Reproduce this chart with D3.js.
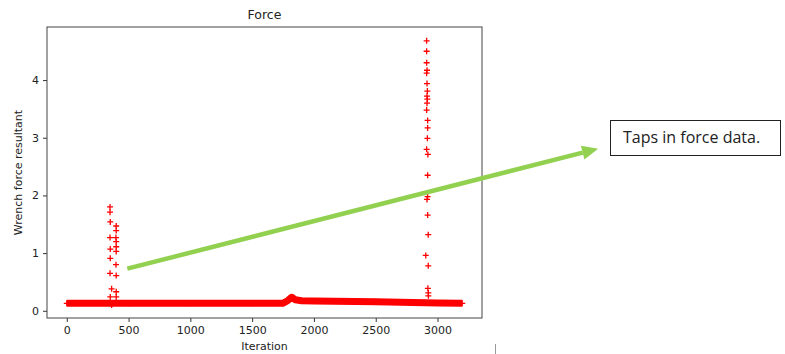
<!DOCTYPE html>
<html>
<head>
<meta charset="utf-8">
<script src="https://cdn.jsdelivr.net/npm/d3@7"></script>
<style>
  body { margin: 0; background: #fff; }
  svg text { font-family: "DejaVu Sans", sans-serif; fill: #222; }
</style>
</head>
<body>
<div id="graph"></div>
<script>
// baseline of the force signal (dense markers, read as a band)
const baseIter = [0, 500, 1000, 1500, 1750, 1790, 1820, 1850, 1900, 2000, 2500, 2900, 3000, 3200];
const baseForce = [0.13, 0.13, 0.13, 0.13, 0.13, 0.18, 0.235, 0.19, 0.175, 0.17, 0.155, 0.14, 0.135, 0.13];

// first tap, around iteration 350-400
const tap1Iter = [350, 350, 352, 350, 352, 352, 350, 363, 352, 363, 400, 400, 398, 400, 400, 400, 398, 400, 400, 400];
const tap1Force = [1.80, 1.71, 1.54, 1.27, 1.07, 0.91, 0.65, 0.38, 0.24, 0.10, 1.47, 1.39, 1.27, 1.20, 1.11, 1.03, 0.80, 0.61, 0.33, 0.24];

// second tap, around iteration 2910-2925
const tap2Iter = [2912, 2912, 2912, 2915, 2912, 2915, 2918, 2915, 2918, 2915, 2912, 2920, 2920, 2918, 2912, 2922, 2920, 2920, 2915, 2920, 2925, 2905, 2925, 2922, 2926, 2926];
const tap2Force = [4.68, 4.50, 4.30, 4.17, 4.12, 3.94, 3.81, 3.72, 3.67, 3.60, 3.48, 3.30, 3.17, 2.99, 2.80, 2.71, 2.35, 1.98, 1.93, 1.66, 1.32, 0.96, 0.78, 0.39, 0.31, 0.26];

const xTicks = [0, 500, 1000, 1500, 2000, 2500, 3000];
const yTicks = [0, 1, 2, 3, 4];

const width = 785;
const height = 354;
const margin = { left: 47, right: 303, top: 27, bottom: 36 };

const svg = d3.select('div#graph')
  .append('svg')
  .attr('width', width)
  .attr('height', height);

const x = d3.scaleLinear()
  .domain([-160, 3360])
  .range([margin.left, width - margin.right]);

const y = d3.scaleLinear()
  .domain([-0.125, 4.92])
  .range([height - margin.bottom, margin.top]);

// axes
const xAxis = svg.append('g')
  .attr('transform', 'translate(0,' + (height - margin.bottom) + ')')
  .call(d3.axisBottom(x).tickValues(xTicks).tickSize(4).tickPadding(4).tickFormat(d3.format('d')));

const yAxis = svg.append('g')
  .attr('transform', 'translate(' + margin.left + ',0)')
  .call(d3.axisLeft(y).tickValues(yTicks).tickSize(4).tickPadding(4).tickFormat(d3.format('d')));

[xAxis, yAxis].forEach(a => {
  a.select('.domain').remove();
  a.selectAll('text').style('font-size', '11px').style('font-family', '"DejaVu Sans", sans-serif').attr('fill', '#333');
  a.selectAll('line').attr('stroke', '#333');
});

// frame
svg.append('rect')
  .attr('x', margin.left)
  .attr('y', margin.top)
  .attr('width', width - margin.right - margin.left)
  .attr('height', height - margin.bottom - margin.top)
  .attr('fill', 'none')
  .attr('stroke', '#444')
  .attr('stroke-width', 1);

// baseline band
const line = d3.line()
  .x((d, i) => x(baseIter[i]))
  .y(d => y(d));

svg.append('path')
  .datum(baseForce)
  .attr('d', line)
  .attr('fill', 'none')
  .attr('stroke', '#ff0000')
  .attr('stroke-width', 7)
  .attr('stroke-linejoin', 'round');

// plus markers
function plusPath(s) {
  return 'M' + (-s) + ',0H' + s + 'M0,' + (-s) + 'V' + s;
}

const points = []
  .concat(baseIter.map((d, i) => [d, baseForce[i]]))
  .concat(tap1Iter.map((d, i) => [d, tap1Force[i]]))
  .concat(tap2Iter.map((d, i) => [d, tap2Force[i]]));

svg.selectAll('path.pt')
  .data(points)
  .enter()
  .append('path')
  .attr('class', 'pt')
  .attr('d', plusPath(3))
  .attr('transform', d => 'translate(' + x(d[0]) + ',' + y(d[1]) + ')')
  .attr('stroke', '#ff0000')
  .attr('stroke-width', 1.3)
  .attr('fill', 'none');

// texts
svg.append('text')
  .attr('x', (margin.left + width - margin.right) / 2)
  .attr('y', 19)
  .attr('text-anchor', 'middle')
  .style('font-size', '12.5px')
  .text('Force');

svg.append('text')
  .attr('x', (margin.left + width - margin.right) / 2)
  .attr('y', 350)
  .attr('text-anchor', 'middle')
  .style('font-size', '11px')
  .text('Iteration');

svg.append('text')
  .attr('transform', 'translate(22,' + ((margin.top + height - margin.bottom) / 2) + ') rotate(-90)')
  .attr('text-anchor', 'middle')
  .style('font-size', '11px')
  .text('Wrench force resultant');

// annotation arrow (in data coordinates)
const arrowStart = [490, 0.73];
const arrowEnd = [4300, 2.81];
const x0 = x(arrowStart[0]), y0 = y(arrowStart[1]);
const x1 = x(arrowEnd[0]), y1 = y(arrowEnd[1]);
const ang = Math.atan2(y1 - y0, x1 - x0);
const headLen = 16, headW = 7;
const bx = x1 - headLen * Math.cos(ang), by = y1 - headLen * Math.sin(ang);

svg.append('line')
  .attr('x1', x0).attr('y1', y0)
  .attr('x2', bx).attr('y2', by)
  .attr('stroke', '#92d050')
  .attr('stroke-width', 4.5);

svg.append('path')
  .attr('d', 'M' + x1 + ',' + y1 +
    'L' + (bx + headW * Math.sin(ang)) + ',' + (by - headW * Math.cos(ang)) +
    'L' + (bx - headW * Math.sin(ang)) + ',' + (by + headW * Math.cos(ang)) + 'Z')
  .attr('fill', '#92d050');

// annotation box
svg.append('rect')
  .attr('x', 610.5)
  .attr('y', 120.5)
  .attr('width', 170)
  .attr('height', 35)
  .attr('fill', '#fff')
  .attr('stroke', '#222')
  .attr('stroke-width', 1);

svg.append('text')
  .attr('x', 623)
  .attr('y', 143)
  .style('font-family', '"Open Sans", sans-serif')
  .style('font-size', '16px')
  .text('Taps in force data.');

// small stray mark below the chart
svg.append('line')
  .attr('x1', 495.5).attr('y1', 344)
  .attr('x2', 495.5).attr('y2', 354)
  .attr('stroke', '#999')
  .attr('stroke-width', 1);
</script>
</body>
</html>
